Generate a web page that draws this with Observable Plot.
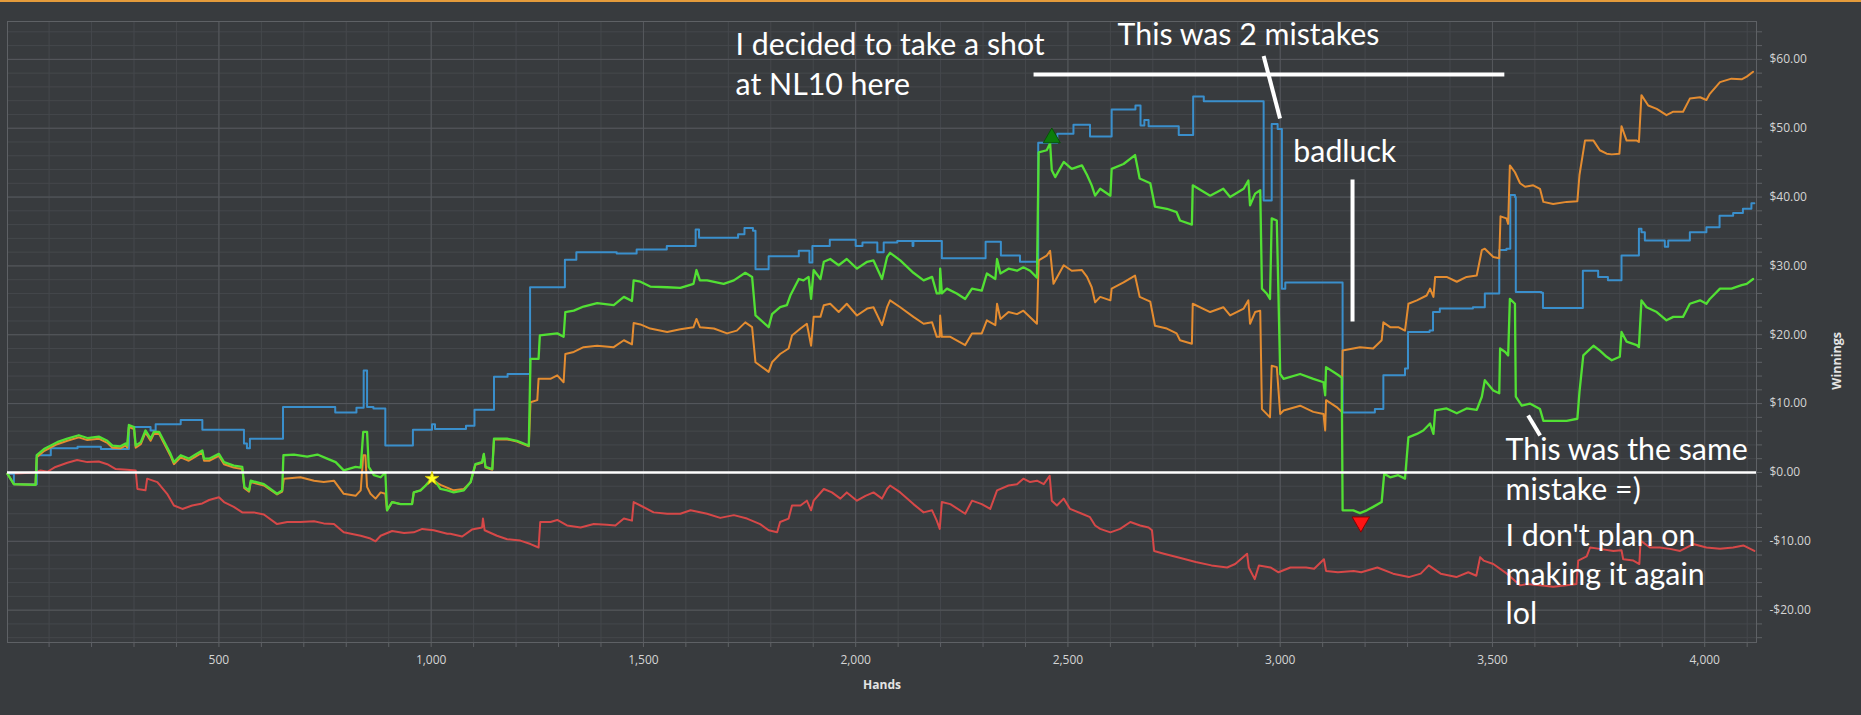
<!DOCTYPE html>
<html>
<head>
<meta charset="utf-8">
<script src="https://cdn.jsdelivr.net/npm/d3@7"></script>
<script src="https://cdn.jsdelivr.net/npm/@observablehq/plot@0.6"></script>
<style>
  html, body { margin: 0; padding: 0; background: #383b3e; overflow: hidden; }
  #wrap { position: relative; width: 1861px; height: 715px; }
  #topbar { position: absolute; left: 0; top: 0; width: 1861px; height: 2px; background: #e49b3b; }
  svg { display: block; }
</style>
</head>
<body>
<div id="wrap"><div id="topbar"></div></div>
<script>
// ---------- data: [hands, winnings $] ----------
const blueSeries = [[2,-0.2],[17,-1.7],[71,2.5],[104,3.5],[167,3.75],[222,3.4],[288,6.6],[339,6.1],[351,7.0],[410,7.6],[461,6.2],[559,4.2],[566,3.5],[573,4.9],[651,9.5],[774,8.7],[824,9.4],[841,14.8],[849,9.5],[864,9.3],[892,3.9],[957,6.2],[1002,7.0],[1009,6.3],[1082,6.8],[1102,9.1],[1148,13.9],[1180,14.3],[1233,26.9],[1315,30.9],[1342,32.0],[1437,31.8],[1484,32.4],[1555,32.9],[1623,35.3],[1631,34.1],[1723,34.6],[1738,35.5],[1758,35.1],[1764,29.5],[1795,31.4],[1866,32.2],[1891,30.5],[1898,32.9],[1939,33.8],[2000,32.9],[2016,33.4],[2051,32.0],[2066,33.4],[2098,33.6],[2134,32.9],[2136,33.6],[2203,31.1],[2306,33.5],[2342,31.5],[2387,30.6],[2430,47.9],[2475,49.2],[2513,50.5],[2552,48.8],[2603,52.7],[2659,53.3],[2671,50.4],[2680,51.2],[2690,50.3],[2761,49.0],[2795,54.6],[2820,53.9],[2961,39.5],[2980,50.6],[2994,49.9],[3004,26.7],[3012,27.6],[3147,8.7],[3223,9.2],[3243,14.1],[3294,15.1],[3301,20.4],[3352,20.6],[3360,23.3],[3376,23.8],[3454,24.0],[3482,26.0],[3516,32.3],[3533,32.5],[3542,40.3],[3553,40.0],[3555,26.2],[3615,26.1],[3619,23.9],[3713,29.3],[3749,28.4],[3772,27.9],[3804,31.5],[3845,35.4],[3851,34.9],[3859,33.7],[3906,32.8],[3914,33.7],[3965,34.9],[4004,35.6],[4035,37.3],[4067,37.7],[4090,38.3],[4110,39.1],[4117,39.1]];

const greenSeries = [[2,-0.2],[17,-1.7],[64,-1.8],[68,-1.8],[71,2.5],[88,3.4],[119,4.4],[143,4.9],[170,5.4],[190,5.0],[217,5.2],[237,4.6],[249,3.9],[268,3.8],[280,4.2],[284,3.9],[288,6.9],[300,6.6],[304,3.9],[316,4.4],[327,6.1],[339,4.9],[347,5.9],[359,5.9],[370,4.6],[386,2.7],[394,1.5],[410,2.5],[429,2.0],[445,2.6],[461,3.2],[465,2.0],[477,2.0],[500,2.7],[512,1.5],[535,1.0],[555,0.8],[560,-2.1],[571,-2.6],[575,-1.2],[606,-1.7],[637,-3.1],[649,-2.6],[652,2.5],[677,2.6],[708,2.3],[732,2.6],[755,2.0],[775,1.5],[794,0.3],[822,0.8],[834,0.7],[840,5.9],[849,5.9],[853,0.8],[865,-0.4],[881,-0.7],[892,0.0],[896,-5.5],[908,-4.3],[928,-4.6],[955,-4.6],[959,-2.9],[975,-2.6],[987,-1.9],[1001,-0.9],[1014,-1.7],[1022,-2.4],[1038,-2.6],[1053,-2.9],[1077,-2.6],[1093,-1.4],[1104,1.2],[1120,1.5],[1124,2.7],[1128,0.8],[1144,0.5],[1148,4.9],[1179,4.9],[1202,4.6],[1230,3.9],[1234,16.5],[1253,16.5],[1256,19.9],[1297,20.2],[1312,19.7],[1316,23.3],[1336,23.5],[1359,24.1],[1391,24.6],[1430,24.3],[1454,25.5],[1473,24.9],[1477,27.9],[1493,27.7],[1516,27.0],[1556,26.9],[1587,26.8],[1618,27.4],[1625,29.4],[1633,27.9],[1650,27.9],[1689,27.4],[1713,27.9],[1740,29.0],[1756,28.4],[1764,22.8],[1795,21.1],[1803,23.0],[1822,24.0],[1838,24.3],[1846,25.7],[1866,28.1],[1877,27.9],[1889,28.4],[1895,25.2],[1901,29.4],[1917,28.1],[1925,30.6],[1940,31.0],[1960,30.1],[1979,31.0],[2003,29.6],[2027,30.6],[2042,30.8],[2062,28.1],[2074,31.3],[2081,31.9],[2105,30.8],[2136,29.0],[2160,27.9],[2180,28.4],[2191,26.0],[2198,26.0],[2199,29.6],[2203,26.0],[2215,26.7],[2238,26.0],[2258,25.2],[2274,26.7],[2297,26.4],[2309,28.9],[2329,28.1],[2333,31.0],[2341,28.9],[2360,29.6],[2380,29.3],[2395,29.8],[2411,29.3],[2427,28.3],[2431,46.5],[2450,46.8],[2458,47.8],[2462,43.9],[2470,42.9],[2490,45.1],[2509,44.1],[2533,44.6],[2545,43.2],[2556,41.7],[2564,40.2],[2576,41.2],[2600,40.2],[2603,44.1],[2631,44.8],[2658,46.1],[2669,42.7],[2694,42.0],[2705,38.6],[2733,38.3],[2756,37.8],[2764,36.6],[2792,36.0],[2794,41.7],[2835,40.2],[2866,41.2],[2882,40.0],[2914,41.2],[2925,42.4],[2929,38.8],[2941,40.5],[2953,41.0],[2957,26.7],[2968,26.0],[2976,25.2],[2980,36.9],[2992,36.6],[3000,14.3],[3008,13.6],[3047,14.3],[3078,13.6],[3102,13.1],[3106,11.2],[3108,15.3],[3133,14.3],[3145,13.8],[3147,-5.5],[3172,-5.5],[3188,-5.9],[3204,-5.5],[3219,-5.0],[3239,-4.3],[3245,-0.2],[3259,-0.7],[3278,-0.4],[3294,-0.9],[3302,5.1],[3322,5.6],[3337,6.1],[3353,7.1],[3361,5.6],[3365,9.0],[3392,9.3],[3416,8.6],[3439,9.3],[3463,9.1],[3475,11.0],[3482,13.4],[3502,11.9],[3516,11.5],[3518,18.0],[3530,17.5],[3537,17.0],[3541,25.2],[3553,24.5],[3555,11.0],[3569,9.7],[3588,10.0],[3612,9.2],[3620,7.5],[3643,7.5],[3675,7.5],[3700,7.8],[3705,11.7],[3714,17.0],[3738,18.4],[3753,17.7],[3769,16.8],[3781,16.3],[3800,16.8],[3804,20.4],[3816,19.0],[3840,18.5],[3845,18.2],[3851,25.0],[3863,24.0],[3887,23.3],[3910,22.1],[3926,22.6],[3949,22.6],[3965,24.5],[3989,25.0],[4004,24.5],[4012,25.2],[4036,26.7],[4063,26.7],[4087,27.2],[4099,27.4],[4114,28.1]];

const orangeSeries = [[2,-0.2],[17,-1.7],[68,-1.8],[71,2.2],[88,3.1],[119,4.1],[143,4.6],[170,5.1],[190,4.7],[217,4.9],[237,4.3],[249,3.6],[268,3.5],[280,3.9],[284,3.6],[288,6.6],[300,6.3],[304,3.6],[316,4.1],[327,5.8],[339,4.6],[347,5.6],[359,5.6],[370,4.3],[386,2.4],[394,1.2],[410,2.2],[429,1.7],[445,2.3],[461,2.9],[465,1.7],[477,1.7],[500,2.4],[512,1.2],[535,0.7],[555,0.5],[560,-2.3],[571,-2.8],[575,-1.4],[606,-1.9],[637,-3.2],[649,-2.8],[653,-0.9],[692,-0.7],[724,-1.2],[747,-1.4],[771,-1.2],[794,-3.1],[822,-3.4],[834,-2.6],[840,2.5],[845,2.5],[849,-2.1],[857,-3.1],[869,-3.8],[881,-2.9],[892,-3.1],[896,-5.5],[908,-4.3],[928,-4.6],[955,-4.6],[959,-2.9],[975,-2.6],[987,-1.9],[1001,-0.9],[1014,-1.5],[1022,-1.8],[1053,-2.6],[1077,-2.4],[1093,-1.4],[1104,1.1],[1120,1.4],[1124,2.6],[1128,0.7],[1144,0.4],[1148,4.8],[1179,4.8],[1202,4.5],[1230,3.8],[1234,10.2],[1250,10.5],[1253,13.6],[1281,13.6],[1297,14.1],[1312,13.1],[1316,17.2],[1336,17.5],[1359,18.2],[1391,18.4],[1430,18.2],[1454,19.2],[1473,18.6],[1477,21.7],[1493,21.5],[1516,20.9],[1556,20.4],[1587,20.8],[1618,21.1],[1625,22.3],[1633,21.1],[1666,20.9],[1697,20.2],[1720,20.6],[1740,21.8],[1756,21.1],[1764,16.0],[1795,14.6],[1803,16.0],[1822,17.2],[1842,18.0],[1850,19.9],[1870,20.9],[1885,21.6],[1895,18.4],[1901,22.6],[1917,22.6],[1925,24.3],[1940,24.5],[1960,23.3],[1979,24.5],[2003,22.8],[2027,23.8],[2042,24.0],[2062,21.4],[2074,24.0],[2081,25.0],[2105,24.0],[2136,22.6],[2160,21.6],[2180,21.8],[2191,19.7],[2198,19.7],[2199,22.8],[2203,19.7],[2223,19.7],[2258,18.5],[2274,20.2],[2297,20.2],[2309,22.1],[2329,21.4],[2333,24.5],[2341,22.3],[2360,23.3],[2380,23.0],[2395,23.5],[2427,21.6],[2431,30.8],[2450,31.5],[2458,32.2],[2466,27.4],[2490,30.1],[2509,29.3],[2533,29.4],[2545,28.4],[2556,26.9],[2564,24.7],[2576,25.5],[2600,25.0],[2603,26.7],[2631,27.6],[2658,28.6],[2669,25.5],[2694,24.8],[2705,21.3],[2733,20.9],[2756,20.2],[2764,19.2],[2792,18.7],[2794,24.5],[2835,23.3],[2866,24.0],[2882,22.8],[2914,23.8],[2925,25.0],[2929,21.6],[2941,23.3],[2953,23.5],[2957,9.2],[2968,8.5],[2976,8.0],[2980,15.5],[2992,15.3],[3000,8.5],[3008,9.0],[3047,9.7],[3078,8.8],[3102,8.5],[3106,6.1],[3108,10.5],[3133,9.5],[3145,8.8],[3147,17.7],[3172,18.0],[3188,18.2],[3219,18.0],[3239,19.2],[3243,21.8],[3259,21.1],[3278,21.1],[3294,20.6],[3302,24.5],[3322,25.0],[3345,25.7],[3353,26.7],[3361,25.5],[3365,28.4],[3392,28.4],[3416,27.7],[3439,28.4],[3463,28.6],[3475,32.3],[3482,32.5],[3502,31.3],[3516,31.1],[3519,37.2],[3533,36.9],[3537,36.1],[3541,44.6],[3553,43.6],[3565,42.0],[3577,41.5],[3596,41.7],[3612,41.2],[3620,39.3],[3643,39.0],[3675,39.3],[3700,39.4],[3705,43.2],[3718,48.2],[3738,48.2],[3753,46.8],[3769,46.3],[3781,46.2],[3799,46.3],[3804,50.3],[3816,48.2],[3840,48.2],[3845,48.0],[3851,54.8],[3867,53.3],[3887,52.8],[3910,51.9],[3926,52.4],[3949,52.4],[3965,54.3],[3989,54.5],[4004,54.1],[4012,55.0],[4036,56.7],[4063,57.2],[4087,57.1],[4099,57.5],[4114,58.2]];

const redSeries = [[2,-0.2],[33,-0.1],[64,0.0],[80,0.3],[96,0.1],[115,0.8],[143,1.4],[166,1.8],[190,1.5],[217,1.6],[237,1.2],[257,0.5],[284,0.4],[304,0.3],[308,-2.4],[327,-2.6],[331,-0.9],[355,-1.4],[378,-3.1],[394,-4.8],[414,-5.3],[437,-4.8],[461,-4.5],[477,-4.0],[500,-3.6],[512,-4.3],[535,-5.0],[555,-5.8],[582,-5.8],[606,-6.1],[637,-7.5],[661,-7.2],[692,-7.2],[724,-7.1],[747,-7.4],[771,-7.5],[794,-8.7],[834,-9.2],[857,-9.6],[869,-10.0],[881,-9.2],[908,-8.5],[936,-8.8],[959,-8.7],[979,-8.2],[1006,-8.4],[1038,-8.9],[1045,-8.9],[1073,-9.3],[1096,-8.3],[1120,-8.0],[1122,-6.7],[1126,-8.4],[1155,-9.2],[1179,-9.7],[1210,-9.9],[1234,-10.4],[1253,-10.9],[1257,-7.2],[1281,-7.2],[1297,-6.9],[1320,-7.7],[1352,-8.0],[1383,-7.5],[1414,-7.6],[1434,-7.7],[1454,-6.7],[1473,-7.0],[1477,-4.3],[1493,-4.8],[1524,-5.8],[1556,-6.0],[1587,-6.0],[1611,-5.5],[1650,-6.0],[1681,-6.6],[1713,-6.2],[1744,-6.7],[1775,-7.5],[1795,-8.4],[1815,-8.7],[1822,-7.2],[1842,-6.7],[1850,-4.8],[1870,-4.8],[1885,-4.1],[1895,-5.5],[1901,-4.1],[1925,-2.4],[1944,-2.9],[1964,-3.8],[1979,-2.9],[2003,-4.1],[2023,-3.4],[2042,-2.9],[2062,-3.8],[2074,-2.4],[2081,-1.9],[2105,-2.9],[2136,-4.6],[2160,-5.8],[2180,-5.5],[2191,-7.0],[2198,-8.2],[2203,-4.3],[2223,-4.6],[2258,-6.0],[2274,-4.1],[2297,-4.6],[2317,-5.3],[2333,-2.6],[2360,-1.9],[2380,-1.7],[2395,-0.9],[2411,-1.4],[2427,-1.2],[2443,-1.7],[2457,-0.5],[2462,-4.1],[2474,-4.8],[2490,-3.8],[2505,-5.3],[2533,-6.0],[2552,-6.5],[2564,-7.7],[2576,-8.2],[2600,-8.7],[2623,-8.2],[2647,-7.2],[2670,-7.7],[2690,-8.0],[2698,-8.4],[2703,-11.4],[2726,-11.8],[2763,-12.4],[2801,-13.0],[2838,-13.5],[2875,-13.8],[2894,-13.3],[2922,-11.8],[2926,-13.8],[2940,-15.5],[2950,-13.5],[2977,-13.8],[2996,-14.5],[3024,-13.8],[3061,-13.8],[3080,-14.0],[3103,-12.6],[3108,-14.3],[3136,-14.5],[3173,-14.3],[3191,-14.5],[3229,-13.8],[3266,-14.7],[3303,-15.2],[3331,-14.7],[3350,-13.5],[3378,-14.7],[3415,-15.2],[3443,-14.5],[3462,-15.0],[3471,-12.3],[3479,-12.8],[3502,-13.3],[3534,-14.7],[3565,-16.4],[3581,-16.2],[3612,-16.4],[3643,-16.6],[3675,-16.4],[3698,-16.2],[3702,-12.8],[3722,-12.2],[3730,-10.9],[3753,-11.1],[3785,-11.4],[3804,-11.3],[3808,-12.6],[3832,-12.8],[3846,-13.3],[3849,-9.9],[3871,-10.9],[3894,-10.9],[3918,-11.1],[3942,-11.4],[3973,-10.4],[4004,-10.9],[4036,-11.1],[4067,-10.9],[4091,-10.6],[4117,-11.4]];

// marker points [hands, winnings]
const bestPoint = [[2462, 48.6]];
const worstPoint = [[3190, -7.2]];
const starPoint = [[1002, -0.9]];

// tick values
const xTickLabels = [500, 1000, 1500, 2000, 2500, 3000, 3500, 4000];
const yTickLabels = [-20, -10, 0, 10, 20, 30, 40, 50, 60];

// annotation text lines: [hands, winnings(baseline), text]
const noteLines = [
  [1717, 60.67, "I decided to take a shot"],
  [1717, 54.86, "at NL10 here"],
  [2617, 62.02, "This was 2 mistakes"],
  [3031, 45.03, "badluck"],
  [3531, 1.74, "This was the same"],
  [3531, -3.97, "mistake =)"],
  [3531, -10.70, "I don't plan on"],
  [3531, -16.31, "making it again"],
  [3531, -22.08, "lol"]
];
// annotation strokes: [h1, v1, h2, v2]
const noteStrokes = [
  [2419, 57.81, 3528, 57.81],
  [2961, 60.49, 2999.6, 51.42],
  [3170.4, 42.56, 3170.4, 21.93],
  [3584, 8.28, 3612.3, 5.37]
];

// ---------- chart ----------
const minorX = d3.range(100, 4101, 100);
const minorY = d3.range(-24, 65, 2);
const fmtY = d => (d < 0 ? "-$" : "$") + Math.abs(d).toFixed(2);
const fmtX = d3.format(",");
const gridMinor = "#45484c";
const gridMajor = "#56595d";
const tickColor = "#5e6165";
const labelColor = "#d4d4d4";

const lineOpts = (color, w) => ({x: d => d[0], y: d => d[1], stroke: color, strokeWidth: w});

const chart = Plot.plot({
  width: 1861,
  height: 715,
  marginTop: 21,
  marginBottom: 73,
  marginLeft: 7,
  marginRight: 105,
  style: {background: "#383b3e", color: labelColor, fontFamily: "'Open Sans', sans-serif", fontSize: "12px"},
  x: {domain: [2, 4122]},
  y: {domain: [-24.7, 65.5]},
  marks: [
    Plot.gridX({ticks: minorX, stroke: gridMinor, strokeOpacity: 1}),
    Plot.gridY({ticks: minorY, stroke: gridMinor, strokeOpacity: 1}),
    Plot.gridX({ticks: xTickLabels, stroke: gridMajor, strokeOpacity: 1}),
    Plot.gridY({ticks: yTickLabels, stroke: gridMajor, strokeOpacity: 1}),
    Plot.frame({stroke: tickColor}),
    Plot.axisX({ticks: minorX, tickSize: 5, tickPadding: 8, stroke: tickColor, fill: labelColor,
      tickFormat: d => xTickLabels.includes(d) ? fmtX(d) : "", label: null, fontSize: 12}),
    Plot.axisY({anchor: "right", ticks: minorY, tickSize: 5, tickPadding: 8, stroke: tickColor, fill: labelColor,
      tickFormat: d => yTickLabels.includes(d) ? fmtY(d) : "", label: null, fontSize: 12}),
    Plot.text(["Hands"], {frameAnchor: "bottom", dy: 46, fontWeight: "bold", fontSize: 12, fill: "#e4e4e4"}),
    Plot.text(["Winnings"], {frameAnchor: "right", dx: 80, rotate: -90, fontWeight: "bold", fontSize: 12.5, fill: "#e4e4e4"}),
    Plot.line(redSeries, lineOpts("#d64848", 2)),
    Plot.line(blueSeries, {...lineOpts("#3a8fcc", 2), curve: "step-after"}),
    Plot.line(orangeSeries, lineOpts("#e48c30", 2)),
    Plot.line(greenSeries, lineOpts("#52e034", 2.3)),
    Plot.ruleY([0], {stroke: "#ffffff", strokeWidth: 2.5}),
    Plot.dot(bestPoint, {x: d => d[0], y: d => d[1], symbol: "triangle", r: 6.3, fill: "#0c7c0c", stroke: "#075207", strokeWidth: 1}),
    Plot.dot(worstPoint, {x: d => d[0], y: d => d[1], symbol: "triangle", r: 6.5, rotate: 180, fill: "#ff1414", stroke: "#8a0000", strokeWidth: 1}),
    Plot.dot(starPoint, {x: d => d[0], y: d => d[1], symbol: "star", r: 4.3, fill: "#ffff22", stroke: "#d8c800", strokeWidth: 0.8}),
    Plot.link(noteStrokes, {x1: d => d[0], y1: d => d[1], x2: d => d[2], y2: d => d[3], stroke: "#ffffff", strokeWidth: 4}),
    Plot.text(noteLines, {x: d => d[0], y: d => d[1], text: d => d[2], textAnchor: "start", lineAnchor: "bottom",
      fontSize: 30.3, fontFamily: "Lato, sans-serif", fill: "#ffffff"})
  ]
});
document.getElementById("wrap").appendChild(chart);
</script>
</body>
</html>
